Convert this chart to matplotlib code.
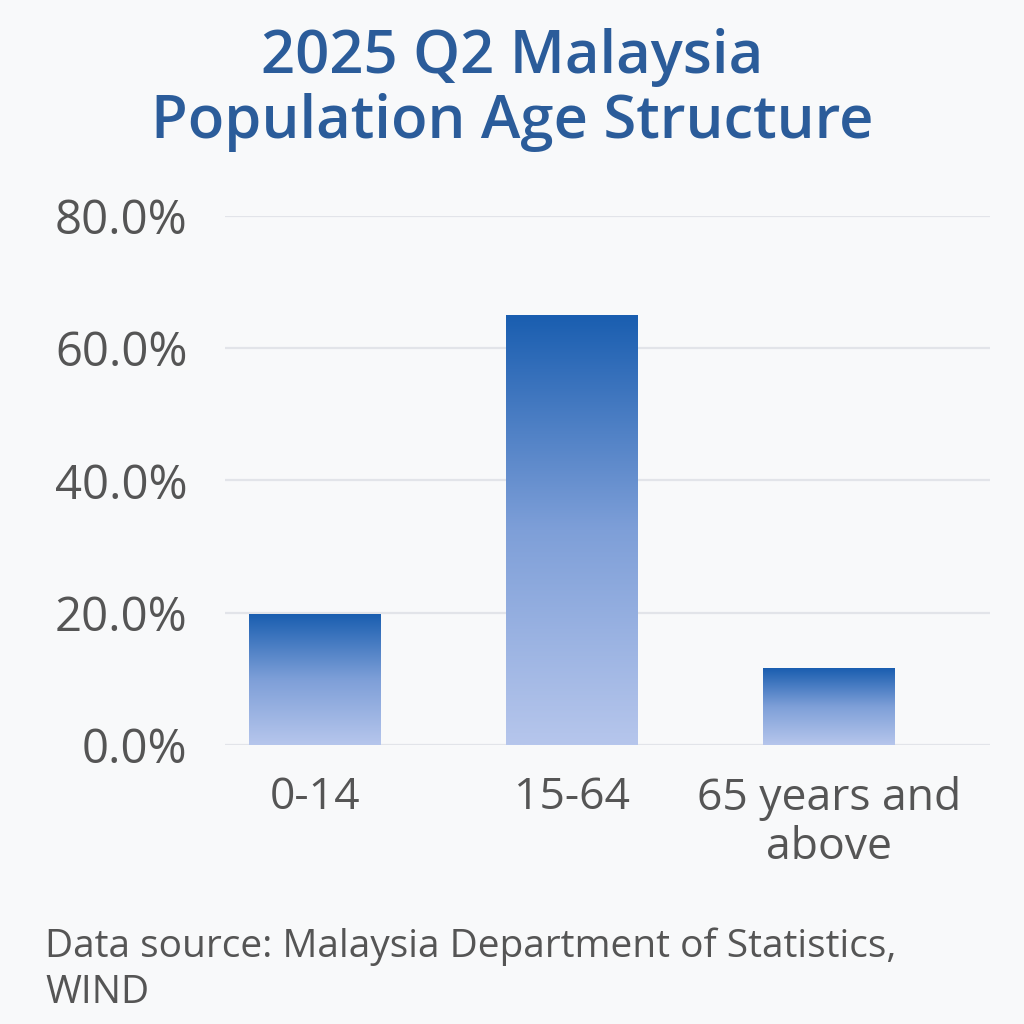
import numpy as np
import matplotlib
matplotlib.use("Agg")
import matplotlib.pyplot as plt
from matplotlib.colors import LinearSegmentedColormap
from matplotlib.ticker import FuncFormatter

categories = ["0-14", "15-64", "65 years and\nabove"]
values = [19.8, 65.0, 11.6]
yticks = [0, 20, 40, 60, 80]
title = "2025 Q2 Malaysia\nPopulation Age Structure"
source = "Data source: Malaysia Department of Statistics,\nWIND"

plt.rcParams['font.family'] = ['Open Sans', 'DejaVu Sans']
bg = "#F8F9FA"
fig = plt.figure(figsize=(10.24, 10.24), dpi=100, facecolor=bg)
ax = fig.add_axes([0.2197, 0.2725, 0.747, 0.5166], facecolor=bg)

cmap = LinearSegmentedColormap.from_list("g", ["#B6C6EC", "#7E9FD8", "#1A5EB0"])
grad = np.linspace(0, 1, 256).reshape(-1, 1)
x = np.arange(len(categories))
width = 0.51
for xi, v in zip(x, values):
    ax.imshow(grad, extent=[xi - width / 2, xi + width / 2, 0, v], origin="lower",
              aspect="auto", cmap=cmap, zorder=3)

ax.set_xlim(-0.35, 2.626)
ax.set_ylim(0, 80)
ax.set_yticks(yticks)
ax.yaxis.set_major_formatter(FuncFormatter(lambda v, p: f"{v:.1f}%"))
ax.set_xticks(x)
ax.set_xticklabels(categories, linespacing=1.15)
ax.tick_params(axis="y", length=0, labelsize=34, labelcolor="#555555", pad=27)
ax.tick_params(axis="x", length=0, labelsize=32, labelcolor="#555555", pad=22)
ax.grid(axis="y", color="#E2E4E9", linewidth=1.6, zorder=0)
ax.set_axisbelow(True)
for s in ax.spines.values():
    s.set_visible(False)

fig.text(0.5, 0.912, title, ha="center", va="center", fontsize=43,
         color="#2B5C9A", fontweight="semibold", linespacing=1.12)
fig.text(0.044, 0.053, source, ha="left", va="center", fontsize=28,
         color="#555555", linespacing=1.3)

fig.savefig("out.png", dpi=100, facecolor=bg)
